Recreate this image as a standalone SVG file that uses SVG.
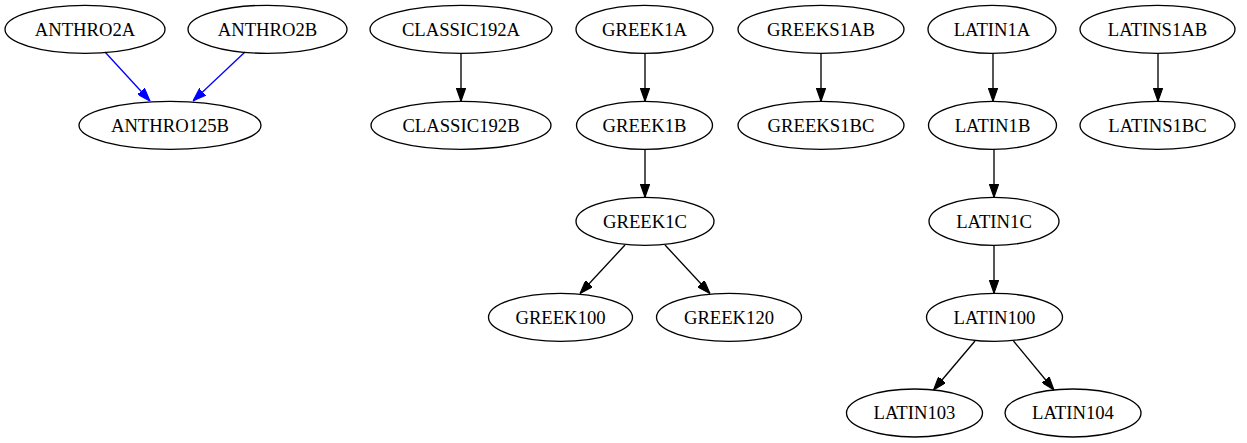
<svg xmlns="http://www.w3.org/2000/svg" width="1247" height="443" viewBox="0 0 1247 443">
<style>
.node ellipse{fill:none;stroke:#000;stroke-width:1.33}
.node text{font-family:"Liberation Serif","Times New Roman",serif;font-size:18.67px;text-anchor:middle;fill:#000}
.e{fill:none;stroke:#000;stroke-width:1.33}
.b{fill:none;stroke:#0000ff;stroke-width:1.33}
</style>
<defs>
<marker id="ah" viewBox="0 0 10 7" refX="10" refY="3.5" markerWidth="13.33" markerHeight="9.33" markerUnits="userSpaceOnUse" orient="auto"><path d="M0,0 L10,3.5 L0,7 z" fill="#000" stroke="#000" stroke-width="0.8"/></marker>
<marker id="ahb" viewBox="0 0 10 7" refX="10" refY="3.5" markerWidth="13.33" markerHeight="9.33" markerUnits="userSpaceOnUse" orient="auto"><path d="M0,0 L10,3.5 L0,7 z" fill="#0000ff" stroke="#0000ff" stroke-width="0.8"/></marker>
</defs>
<rect width="1247" height="443" fill="#fff"/>
<g id="edges">
<path class="b" d="M105,52 L150,101" marker-end="url(#ahb)"/>
<path class="b" d="M245,52 L193,101" marker-end="url(#ahb)"/>
<path class="e" d="M461,53.3 L461,101.3" marker-end="url(#ah)"/>
<path class="e" d="M645,53.3 L645,101.3" marker-end="url(#ah)"/>
<path class="e" d="M645,149.3 L645,197.3" marker-end="url(#ah)"/>
<path class="e" d="M625,245 L580,293.5" marker-end="url(#ah)"/>
<path class="e" d="M665,245 L710,293.5" marker-end="url(#ah)"/>
<path class="e" d="M821,53.3 L821,101.3" marker-end="url(#ah)"/>
<path class="e" d="M993,53.3 L993,101.3" marker-end="url(#ah)"/>
<path class="e" d="M994,149.3 L994,197.3" marker-end="url(#ah)"/>
<path class="e" d="M994,245.3 L994,293.3" marker-end="url(#ah)"/>
<path class="e" d="M975,341 L933.5,390" marker-end="url(#ah)"/>
<path class="e" d="M1013.5,341 L1054,390" marker-end="url(#ah)"/>
<path class="e" d="M1158,53.3 L1158,101.3" marker-end="url(#ah)"/>
</g>
<g id="ANTHRO2A" class="node"><ellipse cx="85" cy="29.3" rx="80" ry="24"/><text x="85" y="35.5">ANTHRO2A</text></g>
<g id="ANTHRO2B" class="node"><ellipse cx="267.5" cy="29.3" rx="79.5" ry="24"/><text x="267.5" y="35.5">ANTHRO2B</text></g>
<g id="ANTHRO125B" class="node"><ellipse cx="170" cy="125.3" rx="91" ry="24"/><text x="170" y="131.5">ANTHRO125B</text></g>
<g id="CLASSIC192A" class="node"><ellipse cx="461" cy="29.3" rx="91" ry="24"/><text x="461" y="35.5">CLASSIC192A</text></g>
<g id="CLASSIC192B" class="node"><ellipse cx="461" cy="125.3" rx="90" ry="24"/><text x="461" y="131.5">CLASSIC192B</text></g>
<g id="GREEK1A" class="node"><ellipse cx="644.5" cy="29.3" rx="68.5" ry="24"/><text x="644.5" y="35.5">GREEK1A</text></g>
<g id="GREEK1B" class="node"><ellipse cx="644.5" cy="125.3" rx="68" ry="24"/><text x="644.5" y="131.5">GREEK1B</text></g>
<g id="GREEK1C" class="node"><ellipse cx="645" cy="221.3" rx="69" ry="24"/><text x="645" y="227.5">GREEK1C</text></g>
<g id="GREEK100" class="node"><ellipse cx="560.5" cy="317.3" rx="72" ry="24"/><text x="560.5" y="323.5">GREEK100</text></g>
<g id="GREEK120" class="node"><ellipse cx="729" cy="317.3" rx="72.5" ry="24"/><text x="729" y="323.5">GREEK120</text></g>
<g id="GREEKS1AB" class="node"><ellipse cx="821" cy="29.3" rx="83" ry="24"/><text x="821" y="35.5">GREEKS1AB</text></g>
<g id="GREEKS1BC" class="node"><ellipse cx="821" cy="125.3" rx="83" ry="24"/><text x="821" y="131.5">GREEKS1BC</text></g>
<g id="LATIN1A" class="node"><ellipse cx="992" cy="29.3" rx="64" ry="24"/><text x="992" y="35.5">LATIN1A</text></g>
<g id="LATIN1B" class="node"><ellipse cx="992.5" cy="125.3" rx="64" ry="24"/><text x="992.5" y="131.5">LATIN1B</text></g>
<g id="LATIN1C" class="node"><ellipse cx="994" cy="221.3" rx="65" ry="24"/><text x="994" y="227.5">LATIN1C</text></g>
<g id="LATIN100" class="node"><ellipse cx="994.5" cy="317.3" rx="68" ry="24"/><text x="994.5" y="323.5">LATIN100</text></g>
<g id="LATIN103" class="node"><ellipse cx="914.5" cy="413" rx="68" ry="24"/><text x="914.5" y="419.2">LATIN103</text></g>
<g id="LATIN104" class="node"><ellipse cx="1073" cy="413" rx="68" ry="24"/><text x="1073" y="419.2">LATIN104</text></g>
<g id="LATINS1AB" class="node"><ellipse cx="1157.5" cy="29.3" rx="77.5" ry="24"/><text x="1157.5" y="35.5">LATINS1AB</text></g>
<g id="LATINS1BC" class="node"><ellipse cx="1157.5" cy="125.3" rx="77.5" ry="24"/><text x="1157.5" y="131.5">LATINS1BC</text></g>
</svg>
